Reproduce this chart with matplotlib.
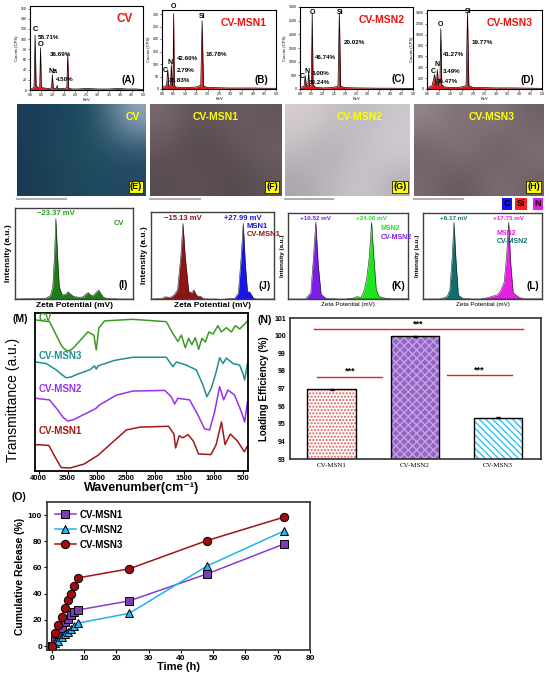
import numpy as np
import matplotlib
matplotlib.use("Agg")
import matplotlib.pyplot as plt

plt.rcParams['font.family'] = ['Liberation Sans', 'DejaVu Sans']

W, H = 550, 678

# ---------------- EDS spectra (A-D) ----------------
a_kev = [0.0, 0.10, 0.18, 0.225, 0.27, 0.36, 0.43, 0.465, 0.50, 0.60, 0.80, 0.95, 0.99, 1.03, 1.12, 1.17, 1.20, 1.23,
         1.35, 1.55, 1.63, 1.67, 1.71, 1.85, 2.1, 2.5, 3.0, 3.5, 3.9, 4.3, 4.7, 5.0]
a_cps = [1, 3, 6, 108, 8, 5, 6, 83, 6, 4, 3, 4, 30, 4, 3, 3, 9, 3, 3, 3, 5, 70, 4, 2, 2, 3, 2, 2, 3, 2, 2, 1]

b_kev = [0.0, 0.10, 0.20, 0.25, 0.30, 0.37, 0.41, 0.45, 0.48, 0.51, 0.54, 0.60, 0.9, 1.2, 1.5, 1.70, 1.76, 1.82,
         2.0, 2.5, 3.0, 3.5, 4.0, 4.5, 5.0]
b_cps = [5, 10, 14, 77, 12, 10, 97, 12, 15, 302, 15, 8, 6, 6, 8, 15, 273, 12, 6, 5, 4, 4, 4, 3, 3]

c_kev = [0.0, 0.10, 0.18, 0.23, 0.28, 0.34, 0.38, 0.42, 0.50, 0.54, 0.58, 0.7, 1.0, 1.4, 1.68, 1.74, 1.80,
         2.0, 2.5, 3.0, 3.5, 4.0, 4.5, 5.0]
c_cps = [40, 80, 100, 490, 110, 90, 610, 100, 150, 2780, 150, 60, 40, 50, 100, 2780, 100, 50, 40, 35, 30, 30, 25, 20]

d_kev = [0.0, 0.10, 0.22, 0.33, 0.40, 0.45, 0.50, 0.56, 0.60, 0.64, 0.75, 1.0, 1.4, 1.70, 1.76, 1.82,
         2.0, 2.5, 3.0, 3.5, 4.0, 4.5, 5.0]
d_cps = [20, 40, 60, 264, 60, 356, 70, 80, 1105, 80, 40, 25, 30, 60, 1410, 60, 30, 25, 20, 20, 18, 15, 12]

# (text, keV, counts, size, ha)
a_txt = [('C', 0.24, 118, 5.5, 'center'), ('58.71%', 0.35, 104, 4.5, 'left'), ('O', 0.47, 90, 5.5, 'center'),
         ('36.69%', 0.87, 70, 4.5, 'left'), ('Na', 1.02, 36, 5, 'center'), ('4.50%', 1.14, 21, 4.5, 'left')]
b_txt = [('O', 0.51, 332, 5, 'center'), ('Si', 1.76, 292, 5, 'center'), ('42.60%', 0.66, 120, 4.5, 'left'),
         ('2.79%', 0.63, 74, 4.5, 'left'), ('35.83%', 0.29, 33, 4.5, 'left'), ('18.78%', 1.91, 140, 4.5, 'left'),
         ('C', 0.15, 74, 5, 'center'), ('N', 0.37, 104, 5, 'center')]
c_txt = [('O', 0.54, 2815, 5, 'center'), ('Si', 1.77, 2815, 5, 'center'), ('46.74%', 0.66, 1140, 4.5, 'left'),
         ('20.02%', 1.92, 1715, 4.5, 'left'), ('3.00%', 0.51, 575, 4.5, 'left'), ('30.24%', 0.38, 245, 4.5, 'left'),
         ('N', 0.31, 650, 5, 'center'), ('C', 0.11, 453, 5, 'center')]
d_txt = [('Si', 1.79, 1430, 5, 'center'), ('O', 0.60, 1185, 5, 'center'), ('19.77%', 1.94, 860, 4.5, 'left'),
         ('41.27%', 0.70, 632, 4.5, 'left'), ('3.49%', 0.67, 325, 4.5, 'left'), ('36.47%', 0.45, 141, 4.5, 'left'),
         ('N', 0.45, 448, 5, 'center'), ('C', 0.27, 325, 5, 'center')]

# ---------------- Zeta potential (I-L) ----------------
i_x = [-58, -40, -32, -28, -26, -24.5, -23.37, -22, -20.5, -18, -15, -13, -11, -8, -3, 0, 2, 4, 6, 8, 10, 12, 13,
       14.5, 17, 20, 30, 42]
i_y = [0, 0.005, 0.01, 0.04, 0.15, 0.55, 1.0, 0.55, 0.15, 0.05, 0.06, 0.09, 0.06, 0.03, 0.02, 0.03, 0.06, 0.08,
       0.05, 0.04, 0.07, 0.10, 0.11, 0.07, 0.02, 0.01, 0, 0]

j_red_x = [-38, -32, -30, -27.6, -25, -23, -21.3, -19, -16.5, -15.13, -13.5, -11, -9, -7.3, -5.5, -3.5, -2.8,
           -1, 1, 10]
j_red_y = [0, 0.005, 0.01, 0.03, 0.02, 0.03, 0.06, 0.12, 0.6, 1.0, 0.55, 0.1, 0.08, 0.12, 0.05, 0.03, 0.04,
           0.01, 0, 0]
j_blue_x = [15, 22, 24.5, 26.5, 27.99, 29.5, 31, 32.8, 34, 35.5, 38, 50]
j_blue_y = [0, 0.01, 0.08, 0.55, 1.0, 0.45, 0.1, 0.09, 0.05, 0.01, 0, 0]

k_vio_x = [3.77, 8, 9.3, 9.9, 10.52, 11.1, 11.8, 13, 16, 32.9]
k_vio_y = [0, 0.0, 0.08, 0.5, 1.0, 0.45, 0.06, 0.01, 0, 0]
k_grn_x = [18, 19.5, 20.5, 21.5, 22.3, 22.9, 23.5, 24.06, 24.6, 25.2, 25.8, 26.5, 27.5, 29, 32.9]
k_grn_y = [0, 0.01, 0.03, 0.02, 0.12, 0.28, 0.55, 1.0, 0.55, 0.12, 0.04, 0.02, 0.01, 0, 0]

l_teal_x = [-0.38, 3, 4.3, 4.8, 5.3, 5.8, 6.17, 6.6, 7.1, 8, 10, 24.8]
l_teal_y = [0, 0.0, 0.02, 0.04, 0.12, 0.55, 1.0, 0.5, 0.05, 0.01, 0, 0]
l_mag_x = [12, 13.5, 14.5, 15.3, 16, 16.8, 17.3, 17.75, 18.2, 18.7, 19.3, 20, 21, 24.8]
l_mag_y = [0, 0.02, 0.04, 0.05, 0.1, 0.22, 0.55, 1.0, 0.45, 0.08, 0.05, 0.02, 0, 0]

# ---------------- FTIR (M) ----------------
cv_wn = [4050, 3811, 3669, 3600, 3550, 3497, 3450, 3400, 3326, 3154, 3051, 3010, 2966, 2868, 2387, 1810, 1697,
         1611, 1553, 1484, 1428, 1371, 1313, 1256, 1199, 1141, 1079, 1010, 925, 867, 781, 695, 627, 553, 467, 420]
cv_t = [95.6, 94.5, 84, 79, 77, 76, 76.5, 78, 81, 88, 86, 76.6, 90.5, 95, 96, 94.5, 87, 82, 86, 78, 84, 80, 84.4,
        77, 84, 81.6, 88, 86.7, 92, 88, 90.7, 88, 92, 89.9, 93, 95]
msn3_wn = [4050, 3868, 3697, 3600, 3525, 3440, 3353, 3125, 3040, 3010, 2980, 2700, 2383, 1810, 1697, 1638, 1467,
           1296, 1182, 1114, 1038, 953, 896, 839, 781, 667, 553, 500, 467, 420]
msn3_t = [69, 68, 64, 61, 59, 59.5, 61, 64, 66.5, 64.5, 66.5, 70, 72, 72, 66, 69, 67, 64, 54.4, 47, 52.5, 63, 71.7,
          68, 71.5, 68, 67, 62, 57.6, 68]
msn2_wn = [4050, 3811, 3669, 3580, 3497, 3400, 3297, 3100, 3010, 2954, 2667, 2383, 1839, 1725, 1668, 1611, 1410,
           1268, 1153, 1067, 982, 896, 827, 753, 639, 524, 467, 420]
msn2_t = [46, 45, 38.6, 34, 31.6, 32.5, 34.4, 38, 39.8, 41.8, 48, 50.6, 51, 47, 42.4, 46, 45, 35.4, 26.6, 26, 37.5,
          53.4, 45, 51.3, 48, 37.5, 31, 43.8]
msn1_wn = [4050, 3823, 3733, 3612, 3461, 3220, 2978, 2676, 2494, 2254, 1771, 1680, 1650, 1589, 1529, 1438, 1347,
           1258, 1045, 956, 865, 803, 714, 592, 472, 420]
msn1_t = [16.7, 16.2, 10, 2.2, 1.9, 4.4, 10, 20, 26, 27.8, 28.3, 23.4, 14.6, 22.3, 21, 23, 19, 10.8, 10.4, 16.7,
          31, 16.7, 23.4, 19, 12.2, 15.8]

# ---------------- Loading efficiency (N) ----------------
samples = ['CV-MSN1', 'CV-MSN2', 'CV-MSN3']
load_eff = [96.97, 99.97, 95.35]
load_err = [0.03, 0.02, 0.02]

# ---------------- Release (O) ----------------
t_h = [0, 1, 2, 3, 4, 5, 6, 7, 8, 24, 48, 72]
rel_msn1 = [0, 5, 9, 14, 18, 21, 24, 26, 27.5, 34.5, 55, 78]
rel_msn2 = [0, 2, 4, 7, 9, 11, 13, 15, 17.5, 25, 61, 88]
rel_msn3 = [0, 10, 16, 22, 29, 35, 40, 46, 52, 59, 80.5, 98.5]


fig = plt.figure(figsize=(W / 100, H / 100), dpi=100)


def box(x0, y0, x1, y1):
    return fig.add_axes([x0 / W, 1 - y1 / H, (x1 - x0) / W, (y1 - y0) / H])


def ftext(x, y, s, **kw):
    fig.text(x / W, 1 - y / H, s, **kw)


# EDS panels
eds = [
    ((30, 6, 143, 90), a_kev, a_cps, a_txt, (0, 165), np.arange(0, 161, 20), 'CV', '(A)', 8.5),
    ((162, 10, 276, 89), b_kev, b_cps, b_txt, (0, 316), np.arange(0, 301, 50), 'CV-MSN1', '(B)', 7.5),
    ((300, 7, 413, 89), c_kev, c_cps, c_txt, (0, 3000), np.arange(0, 3001, 500), 'CV-MSN2', '(C)', 7.5),
    ((427, 10, 542, 89), d_kev, d_cps, d_txt, (0, 1450), np.arange(0, 1401, 200), 'CV-MSN3', '(D)', 7.5),
]
for rect, kev, cps, txts, ylim, yt, title, letter, tsize in eds:
    ax = box(*rect)
    ax.fill_between(kev, cps, color='#e8141c', lw=0)
    ax.plot(kev, cps, color='black', lw=0.5)
    ax.set_xlim(0, 5)
    ax.set_ylim(*ylim)
    ax.set_xticks(np.arange(0, 5.01, 0.5))
    ax.set_xticklabels(['%.1f' % v for v in np.arange(0, 5.01, 0.5)])
    ax.set_yticks(yt)
    ax.tick_params(labelsize=2.5, length=1.5, width=0.4, pad=0.8)
    ax.set_xlabel('KeV', fontsize=3, labelpad=0.5)
    ax.set_ylabel('Counts (CPS)', fontsize=3, labelpad=1)
    for s in ax.spines.values():
        s.set_linewidth(0.8)
    for s, x, y, fs, ha in txts:
        ax.text(x, y, s, fontsize=fs, fontweight='bold', ha=ha, va='center')
    tx = 0.84 if title == 'CV' else 0.72
    ax.text(tx, 0.84, title, transform=ax.transAxes, color='#ee1111', fontsize=tsize,
            fontweight='bold', ha='center', va='center')
    ax.text(0.93, 0.12, letter, transform=ax.transAxes, fontsize=7, fontweight='bold',
            ha='right', va='center')

# elemental mapping micrographs (coarse tones)
e_tone = [[(25, 60, 90), (30, 70, 95), (35, 80, 100), (150, 170, 190)],
          [(25, 60, 85), (30, 75, 90), (35, 80, 95), (40, 85, 110)],
          [(25, 60, 85), (30, 70, 85), (30, 75, 95), (35, 70, 100)]]
f_tone = [[(120, 105, 110), (90, 80, 85), (110, 95, 100), (100, 85, 90)],
          [(100, 85, 90), (80, 70, 75), (95, 80, 85), (110, 95, 100)],
          [(85, 75, 80), (100, 85, 90), (80, 70, 75), (95, 85, 90)]]
g_tone = [[(215, 205, 210), (200, 195, 200), (190, 185, 190), (205, 200, 205)],
          [(195, 190, 195), (175, 170, 175), (200, 195, 200), (210, 205, 210)],
          [(170, 165, 170), (190, 185, 190), (205, 200, 205), (180, 175, 180)]]
h_tone = [[(150, 135, 140), (120, 105, 110), (140, 125, 130), (110, 95, 100)],
          [(110, 95, 100), (140, 125, 130), (100, 85, 90), (130, 115, 120)],
          [(120, 105, 110), (95, 80, 85), (130, 115, 120), (110, 95, 100)]]
maps = [((17, 104, 146, 196), e_tone, 'CV', 0.9, '(E)'),
        ((150, 104, 282, 196), f_tone, 'CV-MSN1', 0.5, '(F)'),
        ((285, 104, 410, 196), g_tone, 'CV-MSN2', 0.6, '(G)'),
        ((414, 104, 544, 196), h_tone, 'CV-MSN3', 0.6, '(H)')]
for rect, tone, lab, lx, letter in maps:
    ax = box(*rect)
    ax.imshow(np.array(tone, dtype=float) / 255, aspect='auto', interpolation='bicubic')
    ax.set_xticks([])
    ax.set_yticks([])
    for s in ax.spines.values():
        s.set_visible(False)
    ax.text(lx, 0.86, lab, transform=ax.transAxes, color='#ffff00', fontsize=7.5, fontweight='bold',
            ha='center', va='center')
    ax.text(0.97, 0.05, letter, transform=ax.transAxes, fontsize=6.5, fontweight='bold', ha='right',
            va='bottom', bbox=dict(boxstyle='square,pad=0.15', fc='#ffff00', ec='black', lw=0.5))
    ax.plot([0.0, 0.38], [-0.035, -0.035], transform=ax.transAxes, clip_on=False, color='#b0b0b0', lw=1.5)

for x, s, c in [(507, 'C', '#1414e6'), (521, 'Si', '#ff2020'), (538, 'N', '#e01ee0')]:
    ftext(x, 204, s, fontsize=6.5, fontweight='bold', ha='center', va='center',
          bbox=dict(boxstyle='square,pad=0.2', fc=c, ec='none'))

# zeta panels
zeta = [
    ((15, 208, 133, 299), [(i_x, i_y, '#1e7d16')], (-58, 42), 1.13,
     [(-23.37, '\u221223.37 mV', '#2c9a22')], [(0.88, 0.83, 'CV', '#2c9a22', 'center')], '(I)', 6, True),
    ((151, 212, 274, 299), [(j_red_x, j_red_y, '#8c1616'), (j_blue_x, j_blue_y, '#1616e6')], (-38, 50), 1.15,
     [(-15.13, '\u221215.13 mV', '#8c1616'), (27.99, '+27.99 mV', '#1616e6')],
     [(0.78, 0.83, 'MSN1', '#1616e6', 'left'), (0.78, 0.74, 'CV-MSN1', '#8c1616', 'left')], '(J)', 6, True),
    ((288, 213, 408, 299), [(k_vio_x, k_vio_y, '#7a1ee6'), (k_grn_x, k_grn_y, '#1ee61e')], (3.77, 32.9), 1.12,
     [(10.52, '+10.52 mV', '#7a1ee6'), (24.06, '+24.06 mV', '#1ee61e')],
     [(0.77, 0.82, 'MSN2', '#1ee61e', 'left'), (0.77, 0.72, 'CV-MSN2', '#7a1ee6', 'left')], '(K)', 4.5, False),
    ((423, 213, 542, 299), [(l_teal_x, l_teal_y, '#0f6e6e'), (l_mag_x, l_mag_y, '#e61ee6')], (-0.38, 24.8), 1.12,
     [(6.17, '+6.17 mV', '#0f6e6e'), (17.75, '+17.75 mV', '#e61ee6')],
     [(0.62, 0.76, 'MSN2', '#e61ee6', 'left'), (0.62, 0.67, 'CV-MSN2', '#0f6e6e', 'left')], '(L)', 4.5, False),
]
for rect, curves, xl, ytop, peaks, legs, letter, lsize, bold in zeta:
    ax = box(*rect)
    for x, y, c in curves:
        ax.fill_between(x, y, color=c, lw=0)
        ax.plot(x, y, color='#202020', lw=0.4)
    ax.set_xlim(*xl)
    ax.set_ylim(0, ytop)
    ax.set_xticks([])
    ax.set_yticks([])
    for s in ax.spines.values():
        s.set_linewidth(1.0)
        s.set_color('#404040')
    for px, s, c in peaks:
        ax.text(px, 1.02, s, color=c, fontsize=5.5 if bold else 4.5, fontweight='bold', ha='center', va='bottom')
    for fx, fy, s, c, ha in legs:
        ax.text(fx, fy, s, transform=ax.transAxes, color=c, fontsize=5.5 if bold else 5, fontweight='bold',
                ha=ha, va='center')
    ax.text(0.92, 0.15, letter, transform=ax.transAxes, fontsize=7, fontweight='bold', ha='center', va='center')
    ax.set_ylabel('Intensity (a.u.)', fontsize=lsize, fontweight='bold', labelpad=2)
    ax.set_xlabel('Zeta Potential (mV)', fontsize=lsize, fontweight='bold' if bold else 'normal', labelpad=2)

# FTIR
ax = box(35, 313, 248, 471)
ftir = [(cv_wn, cv_t, '#3a9a22', 'CV', 97), (msn3_wn, msn3_t, '#1f8f8f', 'CV-MSN3', 73),
        (msn2_wn, msn2_t, '#9b30f0', 'CV-MSN2', 52), (msn1_wn, msn1_t, '#a01818', 'CV-MSN1', 25)]
for wn, tr, c, lab, ly in ftir:
    ax.plot(wn, tr, color=c, lw=1.1)
    ax.text(3990, ly, lab, color=c, fontsize=7, fontweight='bold', ha='left', va='center')
ax.set_xlim(4060, 410)
ax.set_ylim(0, 100)
ax.set_xticks(np.arange(4000, 499, -500))
ax.set_yticks([])
ax.tick_params(axis='x', labelsize=5.5, length=2, pad=1)
for lab in ax.get_xticklabels():
    lab.set_fontweight('bold')
for s in ax.spines.values():
    s.set_linewidth(1.3)
ax.set_xlabel('Wavenumber(cm\u207b\u00b9)', fontsize=9, fontweight='bold', labelpad=0)
ax.set_ylabel('Transmittance (a.u.)', fontsize=10, family='Liberation Sans', labelpad=4)
ax.yaxis.set_label_coords(-0.07, 0.45)
ftext(20, 319, '(M)', fontsize=7.5, fontweight='bold', ha='center', va='center')

# Loading efficiency
ax = box(290, 318, 541, 459)
pos = np.arange(len(samples))
hatch_face = ['white', '#9463c4', 'white']
hatch_col = ['#e05a5a', '#c4a4e4', '#2cc4f0']
hatch_pat = ['.....', 'xxxx', '\\\\\\\\\\']
for p, v, fc, hc, hp in zip(pos, load_eff, hatch_face, hatch_col, hatch_pat):
    ax.bar(p, v - 93, bottom=93, width=0.58, color=fc, edgecolor=hc, hatch=hp, lw=0)
ax.bar(pos, np.array(load_eff) - 93, bottom=93, width=0.58, fill=False, edgecolor='black', lw=1.0)
ax.errorbar(pos, load_eff, yerr=load_err, fmt='none', ecolor='black', capsize=1.5, lw=0.6)
sig = [(0, 1, 97.66, -0.17, -0.39), (1, 2, 97.76, 0.385, 0.17), (0, 2, 100.36, -0.21, 0.30)]
for i, j, y, d0, d1 in sig:
    ax.plot([pos[i] + d0, pos[j] + d1], [y, y], color='#ee1c1c', lw=1.0)
    ax.text((pos[i] + d0 + pos[j] + d1) / 2, y + 0.05, '***', fontsize=6.5, fontweight='bold', ha='center',
            va='bottom')
ax.set_xlim(-0.5, 2.52)
ax.set_ylim(93, 101)
ax.set_yticks(np.arange(93, 102, 1))
ax.set_xticks(pos)
ax.set_xticklabels(samples, family=['Liberation Serif', 'DejaVu Serif'], fontsize=5)
ax.tick_params(axis='y', labelsize=5, length=0, pad=3)
ax.tick_params(axis='x', length=0, pad=3)
for lab in ax.get_yticklabels():
    lab.set_fontweight('bold')
for s in ax.spines.values():
    s.set_linewidth(1.2)
    s.set_color('#303030')
ax.set_ylabel('Loading Efficiency (%)', fontsize=7, fontweight='bold', labelpad=4)
ftext(265, 320, '(N)', fontsize=7.5, fontweight='bold', ha='center', va='center')

# Release
ax = box(47, 502, 310, 650)
ax.plot(t_h, rel_msn1, color='#8a3cc8', lw=1.1, marker='s', ms=6, mfc='#7c3cb4', mec='black', mew=0.7,
        label='CV-MSN1')
ax.plot(t_h, rel_msn2, color='#1eb4f0', lw=1.1, marker='^', ms=6, mfc='#28b4f0', mec='black', mew=0.7,
        label='CV-MSN2')
ax.plot(t_h, rel_msn3, color='#a01414', lw=1.1, marker='o', ms=6, mfc='#a00c0c', mec='black', mew=0.7,
        label='CV-MSN3')
ax.set_xlim(-1.5, 80)
ax.set_ylim(-3, 110)
ax.set_xticks(np.arange(0, 81, 10))
ax.set_yticks(np.arange(0, 101, 20))
ax.tick_params(labelsize=6, length=2, pad=1.5)
for lab in ax.get_xticklabels() + ax.get_yticklabels():
    lab.set_fontweight('bold')
for s in ax.spines.values():
    s.set_linewidth(1.2)
    s.set_color('#303030')
ax.set_xlabel('Time (h)', fontsize=8, fontweight='bold', labelpad=0)
ax.set_ylabel('Cumulative Release (%)', fontsize=7.5, fontweight='bold', labelpad=2)
ax.legend(loc='upper left', frameon=False, prop={'weight': 'bold', 'size': 7}, handlelength=2.2,
          borderaxespad=0.4, labelspacing=0.5, handletextpad=0.4)
ftext(19, 497, '(O)', fontsize=7.5, fontweight='bold', ha='center', va='center')

fig.savefig('out.png', dpi=100)
